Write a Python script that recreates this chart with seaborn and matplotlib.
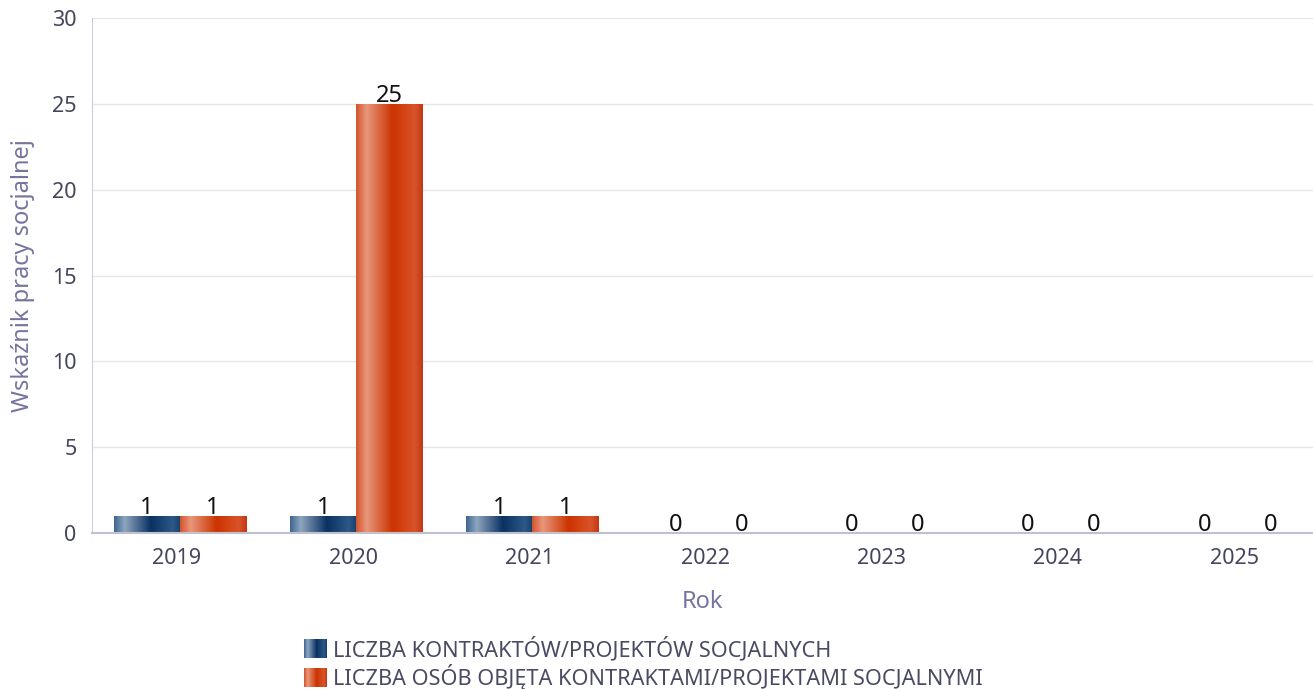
import numpy as np
import pandas as pd
import matplotlib
matplotlib.use("Agg")
import matplotlib.pyplot as plt
import seaborn as sns
from matplotlib.legend_handler import HandlerBase
from matplotlib.image import BboxImage
from matplotlib.transforms import Bbox, TransformedBbox
from matplotlib.colors import LinearSegmentedColormap
from matplotlib.patches import Patch

# ---- data ----
years = ["2019", "2020", "2021", "2022", "2023", "2024", "2025"]
series_names = ["LICZBA KONTRAKTÓW/PROJEKTÓW SOCJALNYCH",
                "LICZBA OSÓB OBJĘTA KONTRAKTAMI/PROJEKTAMI SOCJALNYMI"]
contracts = [1, 1, 1, 0, 0, 0, 0]
persons = [1, 25, 1, 0, 0, 0, 0]
y_ticks = [0, 5, 10, 15, 20, 25, 30]

df = pd.DataFrame({
    "Rok": years * 2,
    "value": contracts + persons,
    "series": [series_names[0]] * len(years) + [series_names[1]] * len(years),
})

base_colors = ["#0b3263", "#cc3300"]
grad_stops = [
    [(0.0, "#3d6590"), (0.16, "#8ea6bf"), (0.55, "#0a3162"), (0.88, "#2d5987"), (1.0, "#163d6b")],
    [(0.0, "#d4542c"), (0.16, "#e8977b"), (0.55, "#cc3300"), (0.88, "#d9542b"), (1.0, "#c0380f")],
]
cmaps = [LinearSegmentedColormap.from_list(f"g{i}", s) for i, s in enumerate(grad_stops)]
grad = np.linspace(0, 1, 256).reshape(1, -1)

plt.rcParams["font.family"] = ["Noto Sans", "DejaVu Sans"]
tick_color = "#45455e"
label_color = "#7474a0"

fig = plt.figure(figsize=(13.13, 6.89), dpi=100)
ax = fig.add_axes([92 / 1313, 1 - 533 / 689, 1 - 92 / 1313, (533 - 18) / 689])

sns.barplot(data=df, x="Rok", y="value", hue="series", palette=base_colors,
            width=0.75, ax=ax, legend=False, saturation=1, edgecolor="none", linewidth=0)

ax.set_yticks(y_ticks)
ax.set_xticks(np.arange(len(years)) - 0.018)
ax.set_xticklabels(years)
ax.tick_params(axis="both", length=0, labelsize=15.5, colors=tick_color)
ax.tick_params(axis="x", pad=11)
ax.tick_params(axis="y", pad=11)
ax.grid(axis="y", color="#e6e6e6", linewidth=1)
ax.set_axisbelow(True)
for s in ["top", "right"]:
    ax.spines[s].set_visible(False)
ax.spines["left"].set_color("#ccccdd")
ax.spines["bottom"].set_color("#c0c0d0")
ax.spines["bottom"].set_linewidth(1.5)
ax.set_xlabel("Rok", fontsize=17, color=label_color, labelpad=15)
ax.set_ylabel("Wskaźnik pracy socjalnej", fontsize=17, color=label_color, labelpad=12)

# gradient overlay + value labels
for ci, cont in enumerate(ax.containers):
    for bar in cont:
        x0 = bar.get_x()
        w = bar.get_width()
        h = bar.get_height()
        if h > 0:
            im = ax.imshow(grad, cmap=cmaps[ci], aspect="auto",
                           extent=[x0, x0 + w, 0, h], zorder=bar.get_zorder() + 0.1)
            im.set_clip_path(bar)
        ax.annotate(f"{h:g}", (x0 + w / 2, h), xytext=(0, 1.5), textcoords="offset points",
                    ha="center", va="baseline", fontsize=17, color="#111111")
ax.set_xlim(-0.5, 6.43)
ax.set_ylim(0, 30)


class HandlerGradient(HandlerBase):
    def __init__(self, cmap):
        super().__init__()
        self.cmap = cmap

    def create_artists(self, legend, orig_handle, xdescent, ydescent, width, height, fontsize, trans):
        bb = Bbox.from_bounds(-xdescent, -ydescent, width, height)
        img = BboxImage(TransformedBbox(bb, trans), cmap=self.cmap, interpolation="bilinear")
        img.set_data(grad)
        return [img]


handles = [Patch(color=c) for c in base_colors]
fig.legend(handles, series_names, loc="upper left", bbox_to_anchor=(304 / 1313, 1 - 637 / 689),
           frameon=False, fontsize=15.6, handlelength=1.03, handleheight=0.93, handletextpad=0.3,
           labelspacing=0.12, borderpad=0, borderaxespad=0, labelcolor="#4a4a62",
           handler_map={handles[0]: HandlerGradient(cmaps[0]), handles[1]: HandlerGradient(cmaps[1])})

fig.savefig("out.png", dpi=100)
